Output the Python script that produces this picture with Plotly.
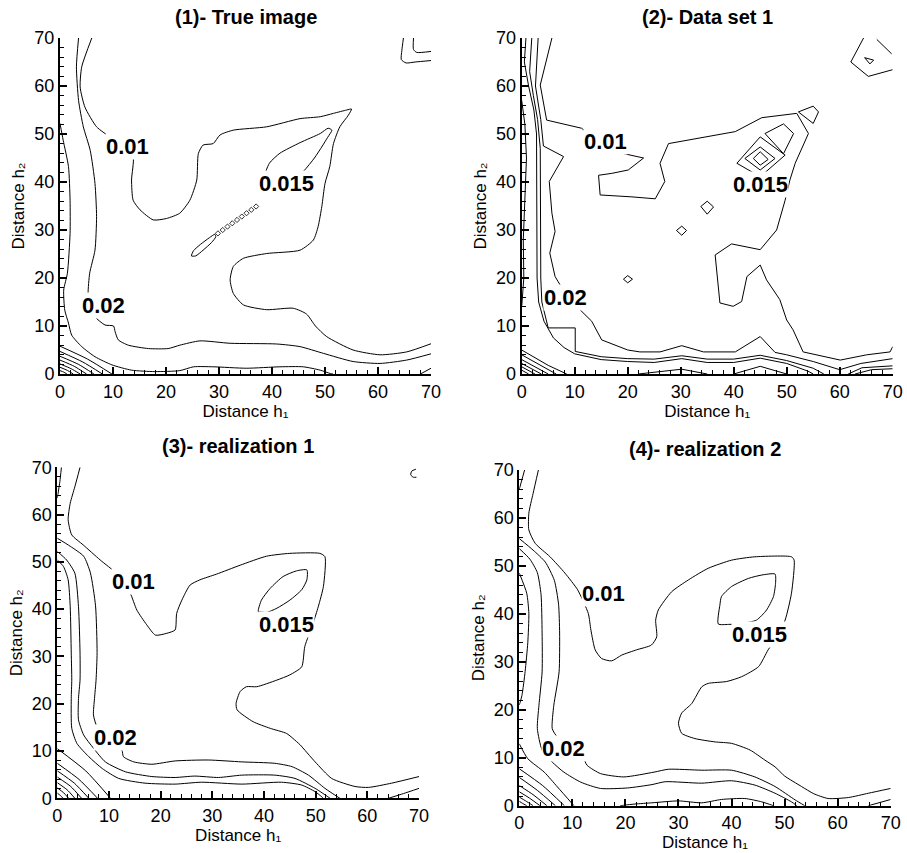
import plotly.graph_objects as go

# ---------------- Panel 1 : True image (contour polylines, data units) ----------------
p1_line_001 = [(6.0,70),(4.1,64),(3.8,59.8),(4.7,55.6),(6.9,51.5),(9.4,49.4),(12,47.5),(13.8,45.3),(13.5,40.4),
               (13.8,36.2),(15.1,34.2),(17.6,32.1),(20.1,32.4),(22.6,33.5),(24.5,36.2),(25.8,40.4),(26.1,45.9),
               (27,47.7),(28.9,48),(30.2,49.8),(32.7,50.8),(39,51.5),(45.3,53.2),(49.1,53.6),(51.6,54.3),(54.1,55),
               (55,55.2),(54.4,53.9),(52.8,51.5),(51.6,48),(50.9,43.2),(50,39.7),(49.4,34.9),(48.7,30.7),(47.8,27.9),
               (45.3,25.8),(39,25.1),(34.6,24.1),(32.7,22.4),(32.1,19.6),(32.7,16.8),(34.6,14.4),(39,13.4),(44,13.7),
               (46.5,12.5),(48.2,10),(50.3,7.8),(55.3,5.0),(60.4,4.0),(65.4,4.6),(70,6.3)]
p1_line_002 = [(3.5,70),(3.1,64),(3.5,57),(4.4,51.5),(5.7,46.6),(6.6,39.7),(6.9,32.8),(6.6,25.8),(5.6,21),(5.3,16.8),
               (5.6,14),(6.6,11.9),(8.5,10.2),(10.1,10),(10.4,8.8),(11,7.1),(12.9,6.0),(16.7,5.3),(20.4,5.3),(22.6,6.0),
               (26.4,6.9),(32.1,6.4),(40.9,6.25),(45.3,5.7),(49.7,4.3),(55.3,2.6),(60.4,2.2),(65.4,2.9),(70,4.2)]
p1_line_003 = [(0,52.2),(0.6,48.7),(1.6,43.2),(1.9,36.2),(1.9,29.3),(1.4,21),(0.7,17.5),(0.9,13.3),(1.6,10.6),
               (2.2,8.1),(4.1,5.7),(6.6,3.6),(9.8,1.9),(13.5,0.8),(17.9,0.5),(22.6,0.7),(25.2,1.5),(28.9,1.5),
               (35.2,1.2),(41.5,1.5),(45.9,1.5),(49.1,0.8),(51,0.1),(51.5,0)]
p1_line_004 = [(68,0),(70,1.2)]
p1_line_005 = [(64.8,70),(64.5,67.4),(64.4,65.5),(65.3,64.8),(67,65),(70,65.3)]
p1_line_006 = [(66.7,70),(66.7,67.6),(67.3,67),(70,67.2)]
p1_loop_0015 = [(38.5,40.5),(39.5,43.9),(41.5,46),(45.3,48.2),(49.1,50.1),(50.6,51.2),(51.3,50.8),(50.5,49.3),
                (49.5,47.5),(48,45),(46,42.3),(43.5,40),(40.5,39.6),(38.5,40.5)]
p1_loop_small = [(24.8,24.6),(25.2,25.7),(26.5,27),(28.2,28.4),(29.2,29.1),(29.4,28.6),(28.6,27.4),(27,25.8),
                 (25.6,24.6),(24.8,24.6)]
p1_corner = [[(0,5.8),(5.2,3.1),(9.8,0)], [(0,4.7),(4.3,2.5),(8.0,0)], [(0,3.7),(3.5,2.0),(6.4,0)],
             [(0,2.9),(2.7,1.6),(5.0,0)], [(0,2.1),(2.1,1.1),(3.8,0)], [(0,1.4),(1.4,0.75),(2.5,0)],
             [(0,0.7),(0.7,0.4),(1.3,0)]]
p1_dots_h1 = [29.8, 30.7, 31.6, 32.5, 33.4, 34.3, 35.2, 36.1, 37.0]
p1_dots_h2 = [29.3, 30.0, 30.7, 31.4, 32.1, 32.8, 33.5, 34.2, 34.9]

# ---------------- Panel 2 : Data set 1 ----------------
p2_line_001 = [(5.7,70),(3.5,60.2),(4.7,52.9),(11.3,51.2),(16.4,46.6),(23,45),(20.1,42.5),(17,41.8),(14.5,41.4),
               (14.8,37.3),(20.8,36.9),(25.2,36.5),(27,40.1),(26.1,43.9),(27.7,48),(40.3,50.5),(45.3,53.4),
               (51.9,54.3),(54.1,50.1),(51.6,43.9),(50.6,40.4),(49.7,36.2),(48.1,30),(45,25.9),(39.6,27.1),
               (36.5,24.8),(37.4,14.8),(39.9,14.1),(41.5,15.1),(42.5,20.3),(45,22.7),(46.2,19.6),(48.7,15.5),
               (50,11.25),(51.2,9.2),(53.1,4.6),(60.1,2.9),(65.1,4.0),(69.5,4.6),(70,5.7)]
p2_line_002 = [(3.1,70),(2.6,60),(3.6,53),(4.1,47.5),(7.9,45.3),(5.2,40.1),(5.7,33.5),(6.3,29.7),(5.3,25.2),
               (6.3,20.3),(8.2,16.8),(9.7,14.8),(13.2,11),(15.1,7.1),(20,5),(22.3,4.6),(26.1,4.6),(30.2,5.9),
               (34.3,4.6),(40.3,4.6),(45,7.8),(47.8,4.5),(50,4.0),(55,2.6),(60,0.9),(64,2.2),(70,3.2)]
p2_line_003 = [(1.9,70),(1.5,63),(2.2,58),(3.0,53),(3.5,47),(3.5,40),(3.5,28),(3.6,20),(3.8,15),(5,9.6),(10.1,9.6),
               (10.1,4.7),(15,3.6),(20,3.2),(25,3.1),(30.2,3.8),(35,3.1),(40,3.1),(45,3.9),(50,2.8),(55,1.2),(57,0)]
p2_line_004 = [(0.8,70),(0.5,65),(1.3,60),(2.3,55),(2.8,50),(2.8,40),(2.8,28),(2.9,20),(3.2,15),(4.2,11),(6,7.5),
               (8,5.5),(10,4.2),(15,3.0),(20,2.6),(25,2.4),(30.2,3.2),(35,2.4),(40,2.4),(45,3.3),(50,2.2),(54,0.6),(55,0)]
p2_line_005 = [(0,57),(0.6,52),(0.9,45),(0.7,38),(0.3,28),(0.4,20),(0,14)]
p2_line_006 = [(22,0),(30.2,1.0),(35,0)]
p2_line_007 = [(40,0),(45,1.6),(50,0)]
p2_line_008 = [(61.6,0),(64.2,1.3),(70,1.7)]
p2_line_009 = [(62.9,0),(66,0.9),(70,1.1)]
p2_line_010 = [(64.5,70),(62.1,65),(65.4,62),(70,63.4)]
p2_line_011 = [(67,69.7),(69.8,66.7)]
p2_loop_001 = [(64.7,65.9),(66.4,65.4),(65.7,64.6),(64.7,65.9)]
p2_loop_002 = [(52.2,54.6),(55,55.8),(56,54.6),(55,52.2),(52.2,54.6)]
p2_loop_003 = [(45.9,50.1),(49.4,52.1),(51.3,50.1),(49.4,45.9),(45.9,50.1)]
p2_loop_004 = [(40.6,43.9),(45,49.4),(49.7,45.6),(45,41.1),(40.6,43.9)]
p2_loop_005 = [(42.1,44.9),(45,47.3),(47.8,44.9),(45,42.5),(42.1,44.9)]
p2_loop_006 = [(43.7,44.9),(45,46.3),(46.5,44.7),(45,43.5),(43.7,44.9)]
p2_loop_007 = [(33.8,34.9),(35,36),(36.2,34.8),(35,33.3),(33.8,34.9)]
p2_loop_008 = [(29.2,29.9),(30.2,30.8),(31.1,29.9),(30.2,28.9),(29.2,29.9)]
p2_loop_009 = [(19.2,19.75),(20,20.5),(20.9,19.75),(20,19),(19.2,19.75)]
p2_corner = [[(0,5.0),(5,1.8),(8.5,0)], [(0,4.0),(4,1.5),(6.5,0)], [(0,3.0),(5,0)], [(0,2.2),(3.7,0)],
             [(0,1.5),(2.5,0)], [(0,0.8),(1.3,0)]]

# ---------------- Panel 3 : realization 1 ----------------
p3_line_001 = [(4.4,70),(3.4,65.9),(2.5,62.4),(2.1,58.9),(2.8,55.7),(5.0,53.6),(8.3,50.4),(11.5,47.5),(14.1,43.4),
               (15.4,39.8),(17.3,36.7),(19,34.5),(21.2,34.9),(22.8,35.6),(23.1,39.1),(24.1,41.9),(25.7,45.1),
               (27.6,46.2),(30.8,47.4),(35.4,49.3),(40.5,51.2),(45,51.8),(50.8,51.8),(51.8,51.1),(51.5,44.8),
               (50.5,40.5),(49.5,37),(47.9,32.1),(47.3,27.8),(45,26.1),(42.5,25),(38.6,23.6),(36.6,23.6),(35.4,22.6),
               (34.6,20.1),(34.8,18.7),(37.9,16.2),(41.2,14.8),(44.4,13.7),(46.3,12),(47,11.3),(49.9,7.7),(53.1,4.2),
               (57.6,2.5),(60.2,2.3),(64.7,3.2),(70,4.6)]
p3_line_002 = [(0,55),(2.5,53.3),(5.1,51.2),(6.4,47.7),(7.4,40.7),(7.7,30.8),(7.5,25),(7.2,21.1),(7.0,17.6),(7.7,15.1),
               (10,12.5),(12.5,10.2),(12.8,8.8),(14.8,7.7),(18.3,7.2),(22.8,7.9),(29.2,8.1),(35.7,7.7),(42.1,7.4),
               (45.4,6.7),(48.6,4.9),(51.8,2.1),(53.7,0.7),(54.7,0)]
p3_line_003 = [(0,52.2),(1.8,50.4),(3.4,47.6),(4.1,40.5),(4.4,30.7),(4.4,25),(4.1,21.1),(4.1,16.6),(5.1,13.4),(7.0,10.6),
               (9.3,7.7),(13.2,5.6),(18.3,4.6),(22.8,4.4),(26.6,4.7),(31.2,4.4),(35.7,4.9),(42.1,4.9),(46,4.2),
               (49.9,2.1),(52.4,0.3),(52.8,0)]
p3_line_004 = [(0,50.4),(1.2,49),(2.1,46.2),(2.5,40.5),(2.7,30.7),(2.8,25),(2.7,21.1),(2.8,14.8),(3.8,11.6),(6.1,8.8),
               (8.7,6.3),(11.9,4.2),(17,3.2),(22.8,3.0),(27.9,3.4),(35.7,3.0),(43.4,3.4),(47.3,2.8),(49.9,1.4),
               (51.2,0.3),(51.5,0)]
p3_line_005 = [(64.1,0),(67,1.0),(70,2.1)]
p3_line_006 = [(0,63.5),(0.5,67),(0.8,70)]
p3_line_007 = [(69.4,69.6),(68.6,69.2),(68.4,68.4),(68.9,67.9),(69.5,67.9)]
p3_loop_0015 = [(38.9,39.5),(39.5,41.9),(41.2,44.4),(43.7,46.9),(46.3,48.1),(48.3,48.3),(48.3,46.2),(47.3,44.1),
                (45,41.9),(42.5,40.2),(40.5,39.3),(39.5,39.4),(38.9,39.5)]
p3_corner = [[(0,10.5),(5.5,5.8),(10.3,0)], [(0,7.4),(4.2,4.0),(7.8,0)], [(0,5.8),(3.3,3.2),(6.1,0)],
             [(0,4.5),(2.6,2.5),(4.7,0)], [(0,3.3),(1.9,1.8),(3.4,0)], [(0,2.2),(1.2,1.2),(2.2,0)],
             [(0,1.1),(0.6,0.6),(1.1,0)]]

# ---------------- Panel 4 : realization 2 ----------------
p4_line_001 = [(3.6,70),(2.6,65.1),(1.8,61),(1.8,57.5),(3,54.7),(5.8,51.9),(8.6,48.5),(11,45),(13,40.1),(13.5,36.6),
               (14.3,32.5),(15.5,30.7),(17.4,30.2),(19.3,31.4),(22.1,32.5),(24.9,33.5),(25.9,35.2),(25.7,38.7),
               (26.2,40.8),(28.7,44.6),(31.9,47.1),(35.6,49.5),(40,51.2),(44.4,51.9),(51.3,51.9),(51.8,51.2),
               (51.3,44.3),(50.1,38.7),(48.5,35),(46.9,32.5),(45.1,29),(41.9,26.9),(39.1,25.9),(35.6,25.5),
               (34.4,24.8),(32.5,21.3),(30.6,19.3),(30,17.2),(30.6,15.1),(33.1,14),(36.9,13.3),(40,13),(43.5,11.6),
               (46.3,9.5),(48.2,8.1),(50,6.2),(53.2,4.0),(55.5,2.5),(58.2,1.5),(62,1.7),(65.8,2.6),(70,3.6)]
p4_line_002 = [(0,55.7),(2.6,53.3),(4.9,50.8),(6.6,47),(7.4,42),(7.6,36),(7.5,27.9),(6.5,20.9),(6.2,16.1),(6.9,14.7),
               (9.5,12.3),(11.9,10.2),(12.8,8.4),(15.3,6.7),(19.7,6.0),(25.4,7.0),(28.1,7.6),(34.4,7.4),(40,7.4),
               (44.4,6.0),(48.2,4.0),(52,1.2),(53.8,0)]
p4_line_003 = [(0,53.6),(2,51.4),(3.4,48.6),(4.1,44),(4.3,36),(4.3,27.9),(3.7,20.9),(3.4,16.1),(4.3,11.6),(6.2,9.1),
               (8.4,7.0),(11.6,4.9),(15.3,3.6),(20.4,3.7),(25,4.4),(27.5,5.0),(34.4,4.7),(40,5.2),(44.4,4.3),
               (48.2,2.6),(51.3,0.8),(52.3,0)]
p4_line_004 = [(0,48.5),(1.4,44.3),(1.8,40.1),(1.6,34),(1.1,28),(0.5,23),(0,21)]
p4_line_005 = [(19,0),(21.8,0.35),(25,0.6),(30,1.0),(34.4,0.6),(38.1,1.3),(42.5,1.5),(45.7,0.8),(47.9,0)]
p4_line_006 = [(65.8,0),(70,1.3)]
p4_line_007 = [(0,66),(0.5,68),(1.0,70)]
p4_loop_0015 = [(37.5,37.9),(37.8,41.8),(38.1,43.6),(40,45.7),(43.2,47.4),(45.7,48.1),(48.2,48.3),(48.3,46.4),
                (47.9,43.6),(46.6,40.8),(44.7,38.7),(41.9,38),(39.4,37.8),(37.5,37.9)]
p4_corner = [[(0,12.9),(1.6,9.8),(4.7,7.0),(7.2,3.9),(10.3,0)], [(0,7.7),(4.4,4.2),(8.5,0)],
             [(0,5.9),(3.4,3.2),(6.8,0)], [(0,4.2),(2.6,2.3),(5.2,0)], [(0,2.9),(1.9,1.6),(3.9,0)],
             [(0,1.8),(1.2,1.0),(2.6,0)], [(0,0.9),(0.6,0.5),(1.4,0)]]

# ---------------- Text ----------------
panel_titles = ["(1)- True image", "(2)- Data set 1", "(3)- realization 1", "(4)- realization 2"]
x_title = "Distance h\u2081"
y_title = "Distance h\u2082"
level_labels = ["0.01", "0.015", "0.02"]
label_pos = {1: [(12.8, 47.4), (42.8, 39.6), (8.3, 14.2)],
             2: [(15.9, 48.4), (45.1, 39.5), (8.3, 15.9)],
             3: [(14.7, 45.8), (44.4, 36.8), (11.3, 12.9)],
             4: [(15.8, 44.3), (45.2, 35.8), (8.3, 12.0)]}
tick_vals = [0, 10, 20, 30, 40, 50, 60, 70]

panels = {
    1: [p1_line_001, p1_line_002, p1_line_003, p1_line_004, p1_line_005, p1_line_006, p1_loop_0015, p1_loop_small] + p1_corner,
    2: [p2_line_001, p2_line_002, p2_line_003, p2_line_004, p2_line_005, p2_line_006, p2_line_007, p2_line_008,
        p2_line_009, p2_line_010, p2_line_011, p2_loop_001, p2_loop_002, p2_loop_003, p2_loop_004, p2_loop_005,
        p2_loop_006, p2_loop_007, p2_loop_008, p2_loop_009] + p2_corner,
    3: [p3_line_001, p3_line_002, p3_line_003, p3_line_004, p3_line_005, p3_line_006, p3_line_007, p3_loop_0015] + p3_corner,
    4: [p4_line_001, p4_line_002, p4_line_003, p4_line_004, p4_line_005, p4_line_006, p4_line_007, p4_loop_0015] + p4_corner,
}

W, H = 907, 853
# plot-area pixel boxes (left, right, top, bottom)
boxes = {1: (60, 431, 38, 374), 2: (521.7, 892.7, 38, 374), 3: (57.3, 419, 467.3, 798.3), 4: (519.3, 890.7, 470, 805.7)}

fig = go.Figure()
FONT = "Arial, Liberation Sans, sans-serif"

for k, lines in panels.items():
    xa = "x" if k == 1 else f"x{k}"
    ya = "y" if k == 1 else f"y{k}"
    shape = "linear" if k == 2 else "spline"
    for ln in lines:
        fig.add_trace(go.Scatter(x=[p[0] for p in ln], y=[p[1] for p in ln], mode="lines", xaxis=xa, yaxis=ya,
                                 line=dict(color="black", width=1, shape=shape, smoothing=0.6),
                                 hoverinfo="skip", showlegend=False, cliponaxis=True))
    if k == 1:
        fig.add_trace(go.Scatter(x=p1_dots_h1, y=p1_dots_h2, mode="markers", xaxis=xa, yaxis=ya,
                                 marker=dict(symbol="diamond-open", size=4, color="black", line=dict(width=0.8)),
                                 hoverinfo="skip", showlegend=False))

layout = dict(width=W, height=H, margin=dict(l=0, r=0, t=0, b=0), plot_bgcolor="white", paper_bgcolor="white",
              showlegend=False, annotations=[])

for k, (l, r, t, b) in boxes.items():
    sx = "" if k == 1 else str(k)
    xdom = [l / W, r / W]
    ydom = [1 - b / H, 1 - t / H]
    common = dict(range=[0, 70], showline=True, linecolor="black", linewidth=2, mirror=False,
                  ticks="inside", ticklen=7, tickwidth=1.5, tickcolor="black", tickvals=tick_vals,
                  minor=dict(ticks="inside", ticklen=4, tickwidth=1, tickcolor="black", dtick=2, tick0=0),
                  showgrid=False, zeroline=False, automargin=False, fixedrange=True,
                  tickfont=dict(family=FONT, size=18, color="black"))
    layout["xaxis" + sx] = dict(common, domain=xdom, anchor="y" + sx,
                                title=dict(text=x_title, font=dict(family=FONT, size=17, color="black"),
                                           standoff=0))
    layout["yaxis" + sx] = dict(common, domain=ydom, anchor="x" + sx,
                                title=dict(text=y_title, font=dict(family=FONT, size=17, color="black"),
                                           standoff=5))
    # panel title
    layout["annotations"].append(dict(text="<b>" + panel_titles[k - 1] + "</b>", xref="paper", yref="paper",
                                      x=(l + r) / 2 / W, y=1 - (t - 21) / H, showarrow=False, xanchor="center",
                                      yanchor="middle", font=dict(family=FONT, size=20, color="black")))
    # contour level labels
    for txt, (hx, hy) in zip(level_labels, label_pos[k]):
        layout["annotations"].append(dict(text="<b>" + txt + "</b>", xref="x" + sx, yref="y" + sx, x=hx, y=hy,
                                          showarrow=False, bgcolor="white", borderpad=0,
                                          font=dict(family=FONT, size=22, color="black")))

fig.update_layout(**layout)
fig.write_html("out.html")
